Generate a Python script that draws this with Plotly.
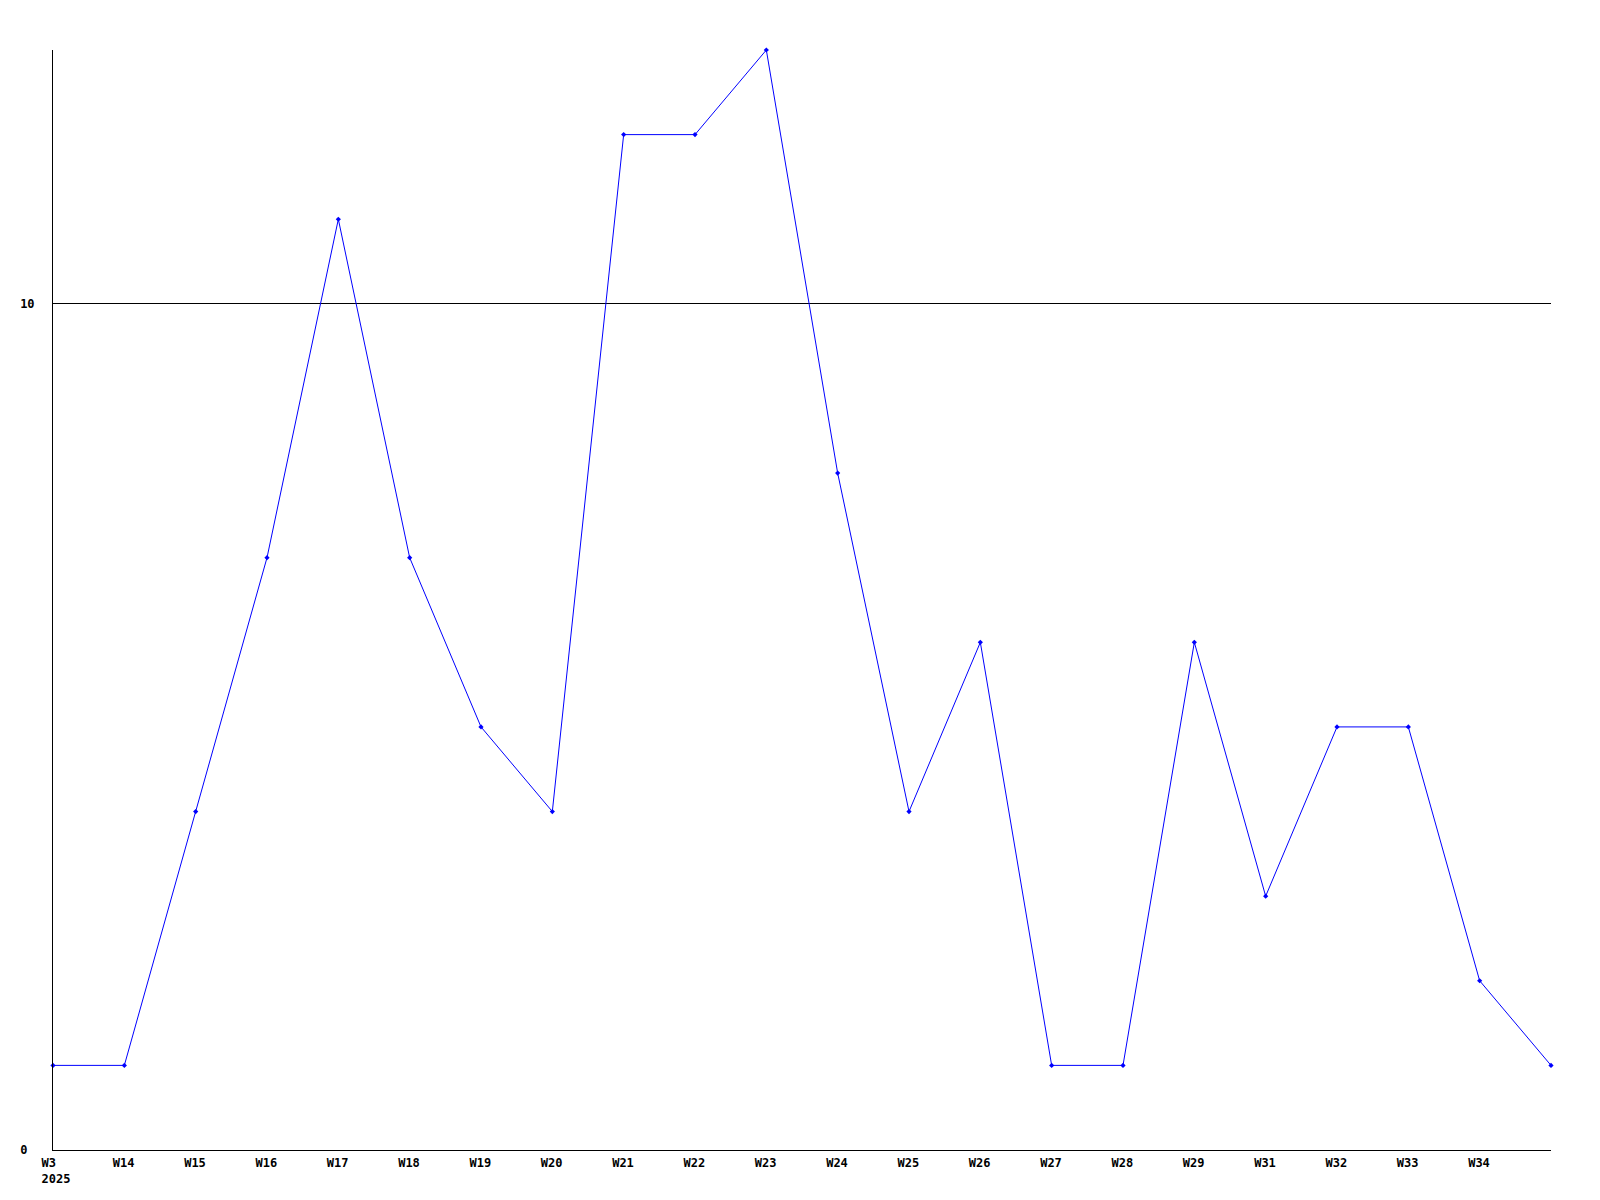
import plotly.graph_objects as go

weeks = ["W3", "W14", "W15", "W16", "W17", "W18", "W19", "W20", "W21", "W22", "W23",
         "W24", "W25", "W26", "W27", "W28", "W29", "W31", "W32", "W33", "W34", "W35"]
values = [1, 1, 4, 7, 11, 7, 5, 4, 12, 12, 13, 8, 4, 6, 1, 1, 6, 3, 5, 5, 2, 1]
tick_labels = ["W3<br>2025", "W14", "W15", "W16", "W17", "W18", "W19", "W20", "W21", "W22", "W23",
               "W24", "W25", "W26", "W27", "W28", "W29", "W31", "W32", "W33", "W34"]
y_ticks = [0, 10]
y_tick_labels = ["0\u00a0", "10"]

x = list(range(len(weeks)))
FONT = "DejaVu Sans Mono"

fig = go.Figure()
fig.add_trace(go.Scatter(
    x=x, y=values, mode="lines+markers",
    line=dict(color="#0000ff", width=1),
    marker=dict(color="#0000ff", size=4, symbol="diamond"),
    hoverinfo="skip", showlegend=False, cliponaxis=False,
))

fig.update_layout(
    width=1592, height=1192,
    margin=dict(l=42, r=49, t=42, b=50, pad=0),
    paper_bgcolor="white", plot_bgcolor="white",
    font=dict(family=FONT, size=12, color="black"),
    xaxis=dict(
        range=[0, len(weeks) - 1],
        tickvals=x[:len(tick_labels)], ticktext=tick_labels,
        showgrid=False, zeroline=False,
        showline=True, linecolor="black", linewidth=1,
        ticks="", ticklabelposition="outside right", ticklabelshift=-12,
        ticklabelstandoff=2,
        tickfont=dict(family=FONT, size=12, color="black", weight="bold"),
    ),
    yaxis=dict(
        range=[0, 13],
        tickvals=y_ticks, ticktext=y_tick_labels,
        showgrid=True, gridcolor="black", gridwidth=1,
        zeroline=False,
        showline=True, linecolor="black", linewidth=1,
        ticks="", ticklabelstandoff=15,
        tickfont=dict(family=FONT, size=12, color="black", weight="bold"),
    ),
)

fig.write_html("out.html")
